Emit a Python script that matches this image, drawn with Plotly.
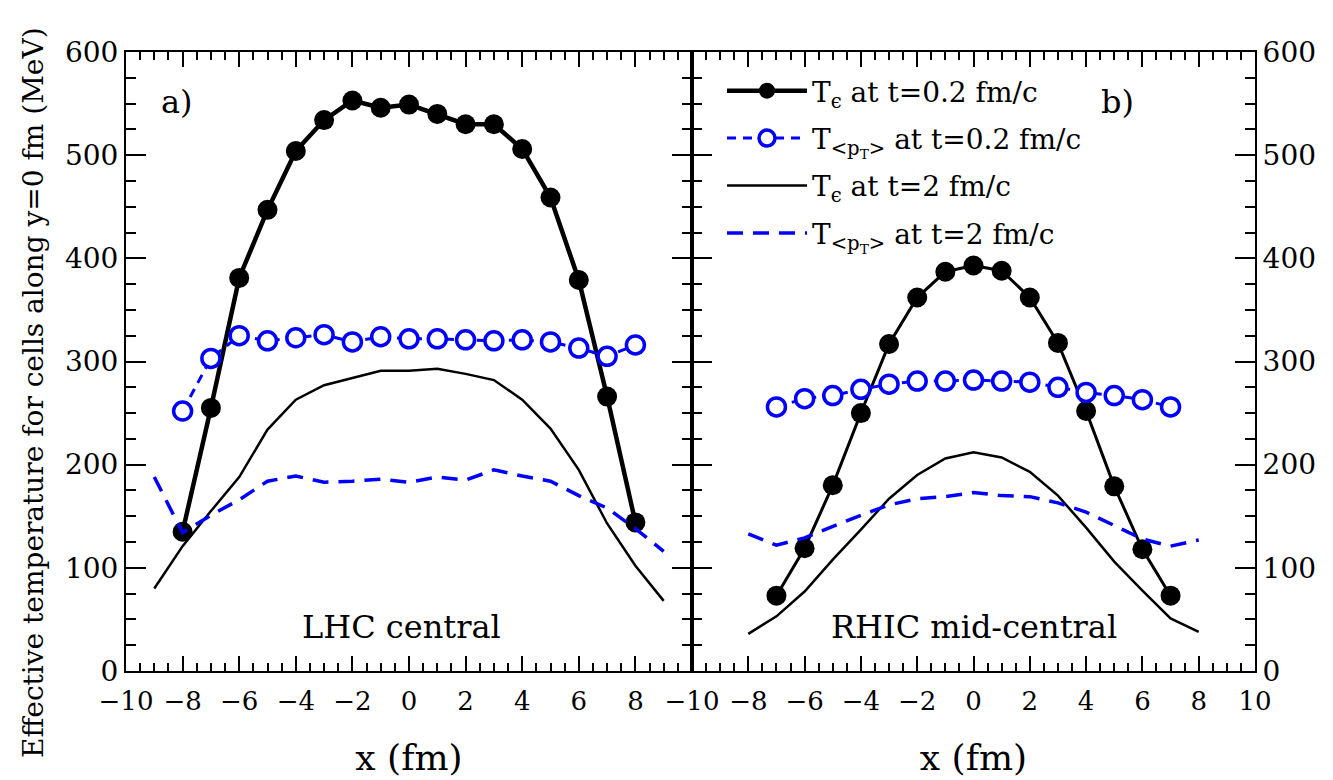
import plotly.graph_objects as go

# ---------------- data ----------------
# LHC central (panel a)
x_lhc_dots = [-8, -7, -6, -5, -4, -3, -2, -1, 0, 1, 2, 3, 4, 5, 6, 7, 8]
te_lhc_02 = [135, 255, 381, 447, 504, 534, 553, 546, 549, 540, 530, 530, 506, 459, 379, 266, 144]
tpt_lhc_02 = [252, 303, 325, 320, 323, 326, 319, 324, 322, 322, 321, 320, 321, 319, 313, 305, 316]
x_lhc_line = [-9, -8, -7, -6, -5, -4, -3, -2, -1, 0, 1, 2, 3, 4, 5, 6, 7, 8, 9]
te_lhc_2 = [80, 121, 155, 188, 234, 263, 277, 284, 291, 291, 293, 288, 282, 263, 235, 195, 143, 102, 68]
tpt_lhc_2 = [188, 134, 151, 166, 184, 189, 183, 184, 186, 183, 188, 185, 195, 189, 184, 170, 158, 138, 116]

# RHIC mid-central (panel b)
x_rhic_dots = [-7, -6, -5, -4, -3, -2, -1, 0, 1, 2, 3, 4, 5, 6, 7]
te_rhic_02 = [73, 119, 180, 250, 317, 362, 387, 393, 388, 362, 318, 252, 179, 118, 73]
tpt_rhic_02 = [256, 264, 267, 273, 278, 281, 281, 282, 281, 280, 275, 270, 267, 263, 256]
x_rhic_line = [-8, -7, -6, -5, -4, -3, -2, -1, 0, 1, 2, 3, 4, 5, 6, 7, 8]
te_rhic_2 = [36, 53, 77, 108, 137, 167, 190, 206, 212, 207, 193, 170, 139, 106, 78, 51, 38]
tpt_rhic_2 = [133, 122, 129, 140, 151, 161, 167, 169, 173, 170, 169, 163, 154, 141, 128, 121, 127]

names = [
    "T<sub>ϵ</sub> at t=0.2 fm/c",
    "T<sub>&lt;p<sub>T</sub>&gt;</sub> at t=0.2 fm/c",
    "T<sub>ϵ</sub> at t=2 fm/c",
    "T<sub>&lt;p<sub>T</sub>&gt;</sub> at t=2 fm/c",
]
left_ticks = [-10, -8, -6, -4, -2, 0, 2, 4, 6, 8]
right_ticks = [-10, -8, -6, -4, -2, 0, 2, 4, 6, 8, 10]
y_ticks = [0, 100, 200, 300, 400, 500, 600]

FONT = "DejaVu Serif"
BLUE = "#0000ff"

fig = go.Figure()


def add_panel(xd, te02, tpt02, xl, te2, tpt2, xa, ya, show, dotw):
    fig.add_trace(go.Scatter(
        x=xd, y=te02, mode="lines+markers", name=names[0], legendgroup="a",
        showlegend=show, xaxis=xa, yaxis=ya,
        line=dict(color="black", width=dotw),
        marker=dict(symbol="circle", size=20, color="black")))
    fig.add_trace(go.Scatter(
        x=xd, y=tpt02, mode="lines+markers", name=names[1], legendgroup="b",
        showlegend=show, xaxis=xa, yaxis=ya,
        line=dict(color=BLUE, width=3, dash="9px,7px"),
        marker=dict(symbol="circle", size=18, color="white",
                    line=dict(color=BLUE, width=3.5))))
    fig.add_trace(go.Scatter(
        x=xl, y=te2, mode="lines", name=names[2], legendgroup="c",
        showlegend=show, xaxis=xa, yaxis=ya,
        line=dict(color="black", width=2.5)))
    fig.add_trace(go.Scatter(
        x=xl, y=tpt2, mode="lines", name=names[3], legendgroup="d",
        showlegend=show, xaxis=xa, yaxis=ya,
        line=dict(color=BLUE, width=3.5, dash="16px,10px")))


add_panel(x_lhc_dots, te_lhc_02, tpt_lhc_02, x_lhc_line, te_lhc_2, tpt_lhc_2,
          "x", "y", True, 4.5)
add_panel(x_rhic_dots, te_rhic_02, tpt_rhic_02, x_rhic_line, te_rhic_2, tpt_rhic_2,
          "x2", "y2", False, 3)

xcommon = dict(
    range=[-10, 10], ticks="inside", ticklen=15, tickwidth=2, tickcolor="black",
    showline=True, linewidth=2, linecolor="black", mirror="allticks",
    showgrid=False, zeroline=False, automargin=False, ticklabelstandoff=6,
    minor=dict(dtick=0.5, ticks="inside", ticklen=8, tickwidth=1.5, tickcolor="black", showgrid=False),
    tickfont=dict(family=FONT, size=26, color="black"),
    title=dict(text="x (fm)", font=dict(family=FONT, size=36, color="black"), standoff=30),
)
ycommon = dict(
    range=[0, 600], tickvals=y_ticks, ticks="inside", ticklen=20, tickwidth=2, tickcolor="black",
    showline=True, linewidth=2, linecolor="black", mirror="allticks",
    showgrid=False, zeroline=False, automargin=False,
    minor=dict(dtick=25, ticks="inside", ticklen=10, tickwidth=1.5, tickcolor="black", showgrid=False),
    tickfont=dict(family=FONT, size=28, color="black"),
)

ydom = [1 - 671 / 780, 1 - 52 / 780]
fig.update_layout(
    width=1333, height=780,
    margin=dict(l=0, r=0, t=0, b=0, autoexpand=False),
    paper_bgcolor="white", plot_bgcolor="white",
    font=dict(family=FONT, color="black"),
    xaxis=dict(domain=[126 / 1333, 692 / 1333], anchor="y", tickvals=left_ticks, **xcommon),
    xaxis2=dict(domain=[692 / 1333, 1255 / 1333], anchor="y2", tickvals=right_ticks, **xcommon),
    yaxis=dict(domain=ydom, anchor="x", side="left", **ycommon),
    yaxis2=dict(domain=ydom, anchor="x2", side="right", **ycommon),
    legend=dict(
        x=722 / 1333, y=1 - 66 / 780, xanchor="left", yanchor="top",
        bgcolor="rgba(0,0,0,0)", borderwidth=0,
        font=dict(family=FONT, size=28, color="black"),
        tracegroupgap=8, itemwidth=80,
    ),
    showlegend=True,
)

fig.add_annotation(text="Effective temperature for cells along y=0 fm (MeV)",
                   xref="paper", yref="paper", x=33 / 1333, y=1 - 393 / 780,
                   xanchor="center", yanchor="middle",
                   textangle=-90, showarrow=False,
                   font=dict(family=FONT, size=28, color="black"))
fig.add_annotation(text="a)", xref="x", yref="y", x=-8.2, y=552, showarrow=False,
                   font=dict(family=FONT, size=32, color="black"))
fig.add_annotation(text="b)", xref="x2", yref="y2", x=5.1, y=552, showarrow=False,
                   font=dict(family=FONT, size=32, color="black"))
fig.add_annotation(text="LHC central", xref="x", yref="y", x=-0.25, y=43, showarrow=False,
                   font=dict(family=FONT, size=32, color="black"))
fig.add_annotation(text="RHIC mid-central", xref="x2", yref="y2", x=0, y=43, showarrow=False,
                   font=dict(family=FONT, size=32, color="black"))

fig.write_html("out.html")
